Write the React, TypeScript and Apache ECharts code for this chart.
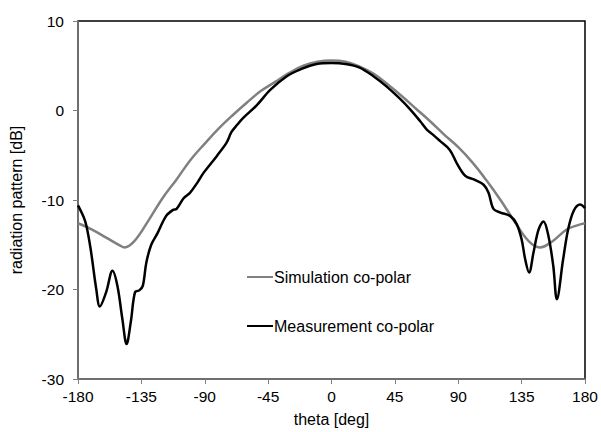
import React, { useEffect, useRef } from "react";
import * as echarts from "echarts";

const simTheta = [-180, -170, -160, -150, -147, -140, -130, -120, -110, -100, -90, -80, -70, -60, -50, -40, -30, -20, -10, 0, 10, 20, 30, 40, 50, 60, 70, 80, 90, 100, 110, 120, 130, 140, 148, 157, 167, 175, 180];
const simDb = [-12.6, -13.3, -14.2, -15.1, -15.3, -14.6, -12.3, -9.8, -7.7, -5.5, -3.7, -2.0, -0.5, 0.9, 2.2, 3.2, 4.2, 5.0, 5.45, 5.6, 5.45, 4.9, 4.1, 2.9, 1.6, 0.2, -1.2, -2.7, -4.1, -5.8, -7.8, -10.0, -12.4, -14.6, -15.3, -14.6, -13.3, -12.8, -12.6];

const measTheta = [-180, -176, -174, -171, -167, -164.5, -160, -155.5, -152, -148.5, -145.5, -142.5, -139.5, -136.5, -134, -131.5, -128, -123.5, -117.5, -112.5, -110, -105, -100.5, -95, -91, -86, -81.5, -74.5, -71, -67, -62.5, -53, -43.5, -32, -22, -10.5, 0, 10, 20, 30, 39, 48, 56, 63, 67.5, 72, 77, 84, 89, 95, 101, 108, 111.5, 115, 120, 127, 131.5, 135, 137.5, 140.3, 143.4, 147, 150.5, 154, 157.5, 160, 164.5, 168, 172, 176.5, 180];
const measDb = [-10.6, -11.9, -12.9, -15.5, -20.0, -21.9, -20.3, -17.9, -19.6, -23.3, -26.1, -23.6, -20.3, -20.1, -19.6, -17.0, -15.0, -13.7, -11.8, -11.1, -11.0, -9.8, -9.2, -8.0, -7.0, -6.0, -5.1, -3.6, -2.4, -1.6, -0.8, 0.6, 2.3, 3.8, 4.6, 5.2, 5.3, 5.2, 4.8, 3.8, 2.7, 1.4, 0.1, -1.2, -2.1, -2.7, -3.4, -4.4, -5.9, -7.3, -7.7, -8.3, -9.2, -11.0, -11.4, -11.8, -12.7, -14.4, -16.6, -18.1, -15.9, -13.3, -12.4, -14.0, -17.4, -21.1, -16.6, -13.3, -11.2, -10.5, -10.9];

const seriesNames = ["Simulation co-polar", "Measurement co-polar"];
const xTitle = "theta [deg]";
const yTitle = "radiation pattern [dB]";

export default function App() {
  const ref = useRef<HTMLDivElement>(null);
  useEffect(() => {
    if (!ref.current) return;
    const chart = echarts.init(ref.current, null, { renderer: "svg" });
    const font = "'Liberation Sans', Arial, sans-serif";
    chart.setOption({
      animation: false,
      backgroundColor: "#ffffff",
      textStyle: { fontFamily: font },
      grid: {
        left: 78,
        right: 16,
        top: 21,
        bottom: 52,
        show: true,
        borderColor: "#000000",
        borderWidth: 1.5,
        backgroundColor: "transparent",
      },
      legend: {
        orient: "vertical",
        left: 242,
        top: 264,
        itemWidth: 26,
        itemHeight: 14,
        itemGap: 33,
        icon: "path://M0,6 L26,6 L26,8 L0,8 Z",
        textStyle: { fontFamily: font, fontSize: 16, color: "#000", padding: [0, 0, 0, -4] },
        data: seriesNames,
      },
      xAxis: {
        type: "value",
        min: -180,
        max: 180,
        interval: 45,
        name: xTitle,
        nameLocation: "middle",
        nameGap: 32,
        nameTextStyle: { fontFamily: font, fontSize: 16, color: "#000" },
        axisLine: { show: true, onZero: false, lineStyle: { color: "#808080", width: 1.5 } },
        axisTick: { show: true, length: 5, lineStyle: { color: "#808080" } },
        axisLabel: { margin: 9, fontFamily: font, fontSize: 15.5, color: "#000" },
        splitLine: { show: false },
      },
      yAxis: {
        type: "value",
        min: -30,
        max: 10,
        interval: 10,
        name: yTitle,
        nameLocation: "middle",
        nameGap: 54,
        nameTextStyle: { fontFamily: font, fontSize: 16, color: "#000" },
        axisLine: { show: true, onZero: false, lineStyle: { color: "#808080", width: 1.5 } },
        axisTick: { show: true, length: 5, lineStyle: { color: "#808080" } },
        axisLabel: { margin: 14, fontFamily: font, fontSize: 15.5, color: "#000" },
        splitLine: { show: false },
      },
      series: [
        {
          name: seriesNames[0],
          type: "line",
          data: simTheta.map((t, i) => [t, simDb[i]]),
          smooth: 0.4,
          showSymbol: false,
          symbol: "none",
          lineStyle: { color: "#808080", width: 2.5 },
          itemStyle: { color: "#808080" },
          z: 2,
        },
        {
          name: seriesNames[1],
          type: "line",
          data: measTheta.map((t, i) => [t, measDb[i]]),
          smooth: 0.35,
          showSymbol: false,
          symbol: "none",
          lineStyle: { color: "#000000", width: 2.5 },
          itemStyle: { color: "#000000" },
          z: 3,
        },
      ],
    });
    return () => chart.dispose();
  }, []);
  return <div ref={ref} style={{ width: 601, height: 432, position: "absolute", left: 0, top: 0 }} />;
}
